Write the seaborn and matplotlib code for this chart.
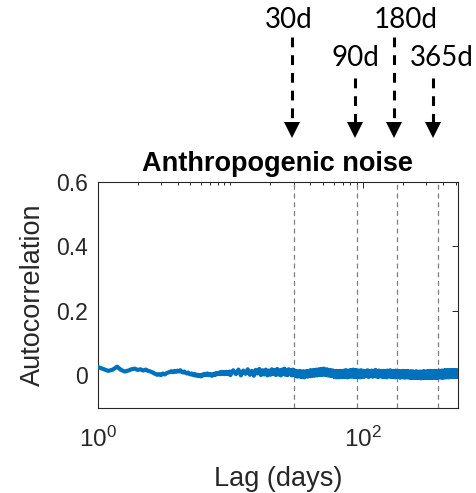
import numpy as np
import pandas as pd
import matplotlib
matplotlib.use("Agg")
import matplotlib.pyplot as plt
import seaborn as sns
from matplotlib.ticker import FixedLocator, NullFormatter

# Lag axis (days): fine steps in the first decade, coarser further out
lags = np.concatenate([
    np.arange(10, 100) / 10.0,      # 1.0 .. 9.9 step 0.1
    np.arange(20, 200) / 2.0,       # 10 .. 99.5 step 0.5
    np.arange(100, 520, 2.0),       # 100 .. 518 step 2
])

acf_short = [
    0.026, 0.020, 0.014, 0.018, 0.027, 0.017, 0.012, 0.015, 0.019, 0.021,
    0.017, 0.019, 0.015, 0.018, 0.014, 0.012, 0.009, 0.005, 0.002, 0.004,
    0.001, 0.006, 0.003, 0.007, 0.009, 0.011, 0.013, 0.010, 0.014, 0.011,
    0.015, 0.012, 0.016, 0.011, 0.009, 0.012, 0.008, 0.006, 0.009, 0.005,
    0.003, 0.006, 0.002, 0.004, 0.000, 0.003, -0.001, 0.002, -0.002, 0.001,
    -0.003, 0.002, 0.000, 0.004, 0.001, 0.005, 0.002, 0.006, 0.003, 0.001,
    0.004, 0.000, 0.003, -0.001, 0.002, 0.005, 0.001, 0.006, 0.003, 0.007,
    0.004, 0.008, 0.005, 0.009, 0.004, 0.010, 0.006, 0.011, 0.005, 0.009,
    0.004, 0.010, 0.006, 0.011, 0.005, 0.009, 0.004, 0.010, 0.006, 0.012,
]

acf_mid = [
    0.001, 0.016, 0.004, 0.018, 0.000, 0.015, 0.005, 0.019, 0.002, 0.014,
    -0.001, 0.017, 0.006, 0.020, 0.001, 0.016, 0.003, 0.018, 0.000, 0.015,
    0.002, 0.019, 0.004, 0.017, 0.001, 0.020, 0.003, 0.016, 0.000, 0.018,
    0.005, 0.021, 0.002, 0.017, 0.001, 0.019, 0.004, 0.016, 0.000, 0.018,
    0.003, 0.015, -0.002, 0.013, -0.004, 0.012, -0.002, 0.014, -0.005, 0.011,
    -0.003, 0.013, -0.006, 0.010, -0.002, 0.014, -0.004, 0.012, -0.001, 0.015,
    0.000, 0.016, -0.002, 0.014, 0.001, 0.017, -0.001, 0.015, 0.002, 0.018,
    0.000, 0.016, 0.003, 0.019, 0.001, 0.017, 0.004, 0.020, 0.002, 0.018,
    0.003, 0.021, 0.005, 0.018, 0.001, 0.016, 0.004, 0.019, 0.000, 0.015,
    0.002, 0.017, -0.001, 0.014, 0.001, 0.016, -0.002, 0.013, 0.000, 0.015,
    -0.003, 0.013, -0.005, 0.012, -0.002, 0.014, -0.006, 0.011, -0.003, 0.013,
    -0.004, 0.012, -0.006, 0.010, -0.002, 0.014, -0.005, 0.011, -0.003, 0.013,
    -0.004, 0.014, -0.001, 0.012, -0.005, 0.015, -0.002, 0.013, -0.004, 0.016,
    -0.003, 0.012, -0.006, 0.014, -0.001, 0.013, -0.004, 0.015, -0.002, 0.012,
    -0.003, 0.016, -0.001, 0.013, -0.004, 0.017, -0.002, 0.014, 0.000, 0.018,
    -0.003, 0.015, -0.005, 0.013, -0.001, 0.016, -0.002, 0.014, -0.004, 0.015,
    -0.001, 0.014, -0.005, 0.013, -0.002, 0.015, -0.004, 0.012, -0.003, 0.014,
    -0.006, 0.013, -0.002, 0.016, -0.005, 0.012, -0.003, 0.014, -0.004, 0.013,
]

acf_long = [
    0.014, -0.004, 0.013, -0.001, 0.016, -0.005, 0.012, -0.002, 0.015, -0.004,
    0.014, 0.000, 0.017, -0.003, 0.013, -0.005, 0.015, -0.002, 0.012, -0.004,
    0.013, -0.005, 0.014, -0.003, 0.012, -0.006, 0.015, -0.002, 0.013, -0.004,
    0.016, -0.003, 0.012, -0.005, 0.014, -0.002, 0.013, -0.006, 0.015, -0.003,
    0.012, -0.005, 0.014, -0.004, 0.011, -0.007, 0.013, -0.003, 0.012, -0.006,
    0.014, -0.004, 0.011, -0.007, 0.013, -0.005, 0.012, -0.006, 0.014, -0.004,
    0.010, -0.007, 0.012, -0.005, 0.011, -0.008, 0.013, -0.006, 0.010, -0.007,
    0.012, -0.005, 0.009, -0.008, 0.011, -0.006, 0.013, -0.007, 0.010, -0.005,
    0.011, -0.008, 0.010, -0.006, 0.012, -0.007, 0.009, -0.009, 0.011, -0.005,
    0.012, -0.007, 0.010, -0.008, 0.013, -0.006, 0.011, -0.007, 0.010, -0.005,
    0.012, -0.006, 0.011, -0.008, 0.013, -0.005, 0.010, -0.007, 0.014, -0.006,
    0.011, -0.008, 0.012, -0.005, 0.010, -0.007, 0.013, -0.006, 0.011, -0.004,
    0.012, -0.007, 0.014, -0.005, 0.011, -0.006, 0.013, -0.008, 0.012, -0.004,
    0.014, -0.006, 0.011, -0.007, 0.013, -0.005, 0.015, -0.006, 0.012, -0.004,
    0.013, -0.005, 0.014, -0.007, 0.012, -0.004, 0.015, -0.006, 0.013, -0.005,
    0.014, -0.007, 0.012, -0.003, 0.015, -0.005, 0.013, -0.006, 0.016, -0.004,
    0.014, -0.005, 0.013, -0.006, 0.015, -0.003, 0.012, -0.005, 0.016, -0.004,
    0.014, -0.006, 0.013, -0.003, 0.015, -0.005, 0.014, -0.004, 0.016, -0.005,
    0.013, -0.003, 0.015, -0.005, 0.014, -0.004, 0.016, -0.003, 0.013, -0.005,
    0.015, -0.002, 0.014, -0.004, 0.016, -0.003, 0.013, -0.005, 0.015, -0.002,
    0.014, -0.004, 0.016, -0.003, 0.013, -0.002, 0.015, -0.004, 0.014, -0.001,
]

acf = np.array(acf_short + acf_mid + acf_long)

# Reference periods marked on the lag axis
period_days = [30, 90, 180, 365]
period_labels = ["30d", "90d", "180d", "365d"]

ytick_values = [0, 0.2, 0.4, 0.6]
ytick_labels = ["0", "0.2", "0.4", "0.6"]

df = pd.DataFrame({"lag": lags, "acf": acf})

sns.set_style("white")
plt.rcParams["font.family"] = ["Liberation Sans", "DejaVu Sans"]
plt.rcParams["mathtext.fontset"] = "custom"
plt.rcParams["mathtext.rm"] = "Liberation Sans"
plt.rcParams["mathtext.it"] = "Liberation Sans"
plt.rcParams["mathtext.bf"] = "Liberation Sans:bold"

W, H = 477, 493
fig = plt.figure(figsize=(W / 100, H / 100), dpi=100)
ax = fig.add_axes([97.7 / W, 1 - 407.7 / H, 360 / W, 226 / H])

ink = "#262626"

for d in period_days:
    ax.axvline(d, color="#7f7f7f", linestyle=(0, (4, 3)), linewidth=0.9, zorder=1)

sns.lineplot(data=df, x="lag", y="acf", ax=ax, color="#0072BD",
             linewidth=3.0, sort=False, estimator=None, zorder=3)

ax.set_xscale("log")
ax.set_xlim(1, 516)
ax.set_ylim(-0.1, 0.6)

ax.xaxis.set_major_locator(FixedLocator([1, 100]))
ax.set_xticklabels([r"$10^0$", r"$10^2$"])
minor = [m * 10 ** e for e in range(0, 3) for m in range(2, 10)] + [10]
ax.xaxis.set_minor_locator(FixedLocator(minor))
ax.xaxis.set_minor_formatter(NullFormatter())
ax.set_yticks(ytick_values)
ax.set_yticklabels(ytick_labels)

ax.tick_params(axis="both", which="both", direction="in", top=True, right=True,
               color=ink, width=0.7)
ax.tick_params(axis="both", which="major", length=4.5, labelsize=16.5, labelcolor=ink)
ax.tick_params(axis="x", which="major", labelsize=17.5, pad=14)
ax.tick_params(axis="both", which="minor", length=2.5)
ax.tick_params(axis="y", which="major", pad=7)

for s in ax.spines.values():
    s.set_color(ink)
    s.set_linewidth(0.8)

ax.set_xlabel("Lag (days)", fontsize=19.5, color=ink, labelpad=10)
ax.set_ylabel("Autocorrelation", fontsize=19.5, color=ink, labelpad=7)
ax.set_title("Anthropogenic noise", fontsize=19.5, fontweight="bold", color="black", pad=8)

# Period markers above the panel: label, dashed shaft and arrow head
def fx(px):
    return px / W

def fy(py):
    return 1 - py / H

markers = [
    # label, shaft x, label x, label baseline, shaft top
    ("30d", 292.3, 288.5, 28.5, 37),
    ("90d", 355.0, 355.0, 66.0, 78),
    ("180d", 394.3, 405.8, 28.5, 37),
    ("365d", 433.3, 441.7, 66.0, 78),
]
for lab, x, lx, base, top in markers:
    fig.text(fx(lx), fy(base), lab, ha="center", va="baseline",
             fontsize=20, family=["Lato", "DejaVu Sans"], color="black")
    fig.add_artist(plt.Line2D([fx(x), fx(x)], [fy(top), fy(124)],
                              transform=fig.transFigure, color="black",
                              linewidth=2.2, linestyle=(0, (3.2, 2.6))))
    fig.add_artist(plt.Line2D([fx(x)], [fy(130)], transform=fig.transFigure,
                              marker="v", markersize=11, color="black",
                              markeredgewidth=0))

fig.savefig("out.png", dpi=100)
